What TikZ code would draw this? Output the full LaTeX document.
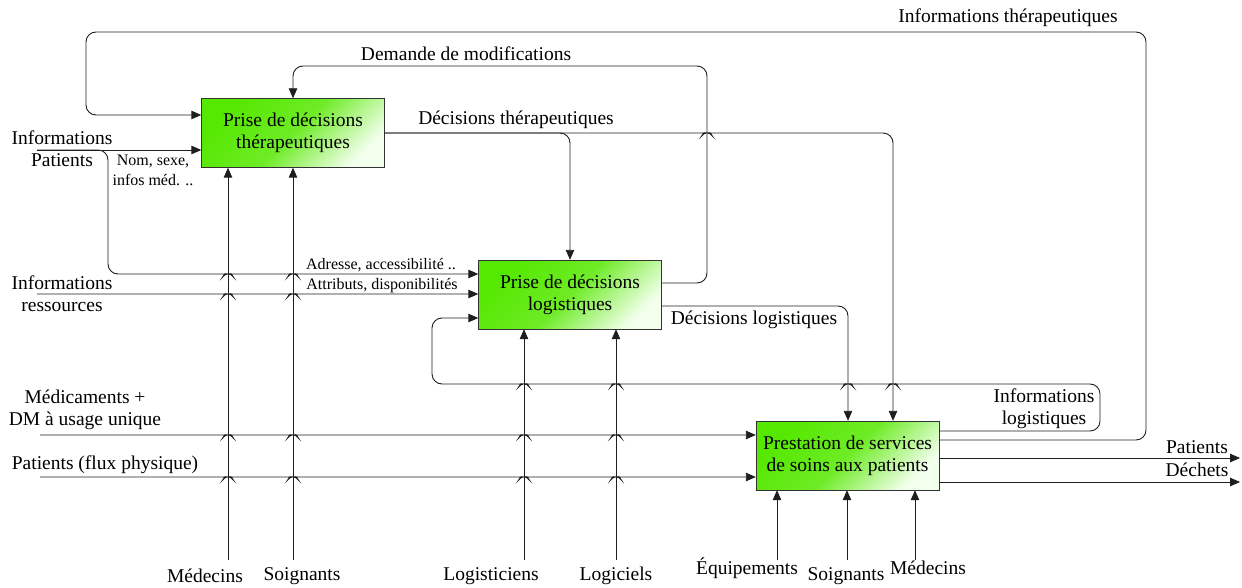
\documentclass[tikz,border=0pt]{standalone}
\usepackage{fontspec}
\setmainfont{Liberation Serif}
\usetikzlibrary{arrows.meta}
\definecolor{gA}{HTML}{55E800}
\definecolor{gB}{HTML}{F2FFEC}
\definecolor{ln}{HTML}{1E1E1E}
\newcommand\hopR[2]{-- ({#1-10},#2) .. controls ({#1-4},#2) and ({#1-2},{#2-2}) .. (#1,{#2-5}) .. controls ({#1+2},{#2-2}) and ({#1+4},#2) .. ({#1+10},#2)}
\newcommand\hopL[2]{-- ({#1+10},#2) .. controls ({#1+4},#2) and ({#1+2},{#2-2}) .. (#1,{#2-5}) .. controls ({#1-2},{#2-2}) and ({#1-4},#2) .. ({#1-10},#2)}
\begin{document}
\begin{tikzpicture}[x=1pt,y=-1pt,
  box/.style={draw=black!80, top color=gA, bottom color=gB, middle color=gA!85!white, shading angle=45,
    minimum width=183pt, minimum height=69pt, inner sep=0pt, align=center, font=\fontsize{19.5}{22}\selectfont},
  conn/.style={draw=ln, line width=0.9pt, rounded corners=10pt},
  arr/.style={conn, -{Triangle[length=10pt,width=8.5pt]}},
  lbl/.style={inner sep=0pt, align=center, font=\fontsize{19.5}{22}\selectfont},
  slbl/.style={inner sep=0pt, align=center, font=\fontsize{16}{20}\selectfont}]
\useasboundingbox (0,0) rectangle (1242,588);

% boxes
\node[box] (b1) at (293,133) {Prise de décisions\\thérapeutiques};
\node[box] (b2) at (570,294.5) {Prise de décisions\\logistiques};
\node[box] (b3) at (847.5,455.5) {Prestation de services\\de soins aux patients};

% free ends
\coordinate (iP) at (37,150);
\coordinate (iR) at (37,294);
\coordinate (iM) at (40,435);
\coordinate (iF) at (40,477);
\coordinate (m1) at (228,560);
\coordinate (m2) at (293,560);
\coordinate (m3) at (524,560);
\coordinate (m4) at (616,560);
\coordinate (m5) at (777,560);
\coordinate (m6) at (847,560);
\coordinate (m7) at (915,560);
\coordinate (oP) at (1240,458);
\coordinate (oD) at (1240,482);

% Informations therapeutiques loop
\draw[arr] (b3.east |- 0,440) -- (1146,440) -- (1146,32) -- (86,32) -- (86,115) -- (b1.west |- 0,115);
% Demande de modifications
\draw[arr] (b2.east |- 0,283) -- (707,283) -- (707,66) -- (293,66) -- (b1.north);
% Decisions therapeutiques
\draw[arr] (b1.east) -- (570,133) -- (b2.north);
\draw[arr] (b1.east) -- (560,133) \hopR{707}{133} -- (893,133) -- (b3.north -| 893,0);
% Decisions logistiques
\draw[arr] (b2.east |- 0,306) -- (848,306) -- (b3.north -| 848,0);
% Informations logistiques loop
\draw[arr] (b3.east |- 0,431) -- (1100,431) -- (1100,384) \hopL{893}{384} \hopL{848}{384} \hopL{616}{384} \hopL{524}{384} -- (432,384) -- (432,318) -- (b2.west |- 0,318);
% Informations patients
\draw[arr] (iP) -- (b1.west |- 0,150);
\draw[arr] (iP) -- (108,150) -- (108,274) \hopR{228}{274} \hopR{293}{274} -- (b2.west |- 0,274);
% Informations ressources
\draw[arr] (iR) \hopR{228}{294} \hopR{293}{294} -- (b2.west |- 0,294);
% Medicaments
\draw[arr] (iM) \hopR{228}{435} \hopR{293}{435} \hopR{524}{435} \hopR{616}{435} -- (b3.west |- 0,435);
% Patients flux physique
\draw[arr] (iF) \hopR{228}{477} \hopR{293}{477} \hopR{524}{477} \hopR{616}{477} -- (b3.west |- 0,477);
% mechanisms
\draw[arr] (m1) -- (b1.south -| 228,0);
\draw[arr] (m2) -- (b1.south -| 293,0);
\draw[arr] (m3) -- (b2.south -| 524,0);
\draw[arr] (m4) -- (b2.south -| 616,0);
\draw[arr] (m5) -- (b3.south -| 777,0);
\draw[arr] (m6) -- (b3.south -| 847,0);
\draw[arr] (m7) -- (b3.south -| 915,0);
% outputs
\draw[arr] (b3.east |- 0,458) -- (oP);
\draw[arr] (b3.east |- 0,482) -- (oD);

% labels
\node[lbl] (tInfTh) at (1008,18) {Informations thérapeutiques};
\node[lbl] (tDem) at (466,54) {Demande de modifications};
\node[lbl] (tDecTh) at (516,120) {Décisions thérapeutiques};
\node[lbl] (tInfP) at (62,149) {Informations\\Patients};
\node[slbl] (tNom) at (153,170) {Nom, sexe,\\infos méd. ..};
\node[slbl] (tAdr) at (381,265) {Adresse, accessibilité ..};
\node[slbl] (tAtt) at (382,286) {Attributs, disponibilités};
\node[lbl] (tInfR) at (62,294) {Informations\\ressources};
\node[lbl] (tDecL) at (754,320) {Décisions logistiques};
\node[lbl] (tInfL) at (1044,409) {Informations\\logistiques};
\node[lbl] (tMed) at (85,410) {Médicaments +\\DM à usage unique};
\node[lbl] (tFlux) at (105,465) {Patients (flux physique)};
\node[lbl] (tOutP) at (1197,447) {Patients};
\node[lbl] (tOutD) at (1197,470) {Déchets};
\node[lbl] (tB1) at (205,576) {Médecins};
\node[lbl] (tB2) at (302,576) {Soignants};
\node[lbl] (tB3) at (491,576) {Logisticiens};
\node[lbl] (tB4) at (616,576) {Logiciels};
\node[lbl] (tB5) at (747,568) {Équipements};
\node[lbl] (tB6) at (846,576) {Soignants};
\node[lbl] (tB7) at (928,568) {Médecins};
\end{tikzpicture}
\end{document}
